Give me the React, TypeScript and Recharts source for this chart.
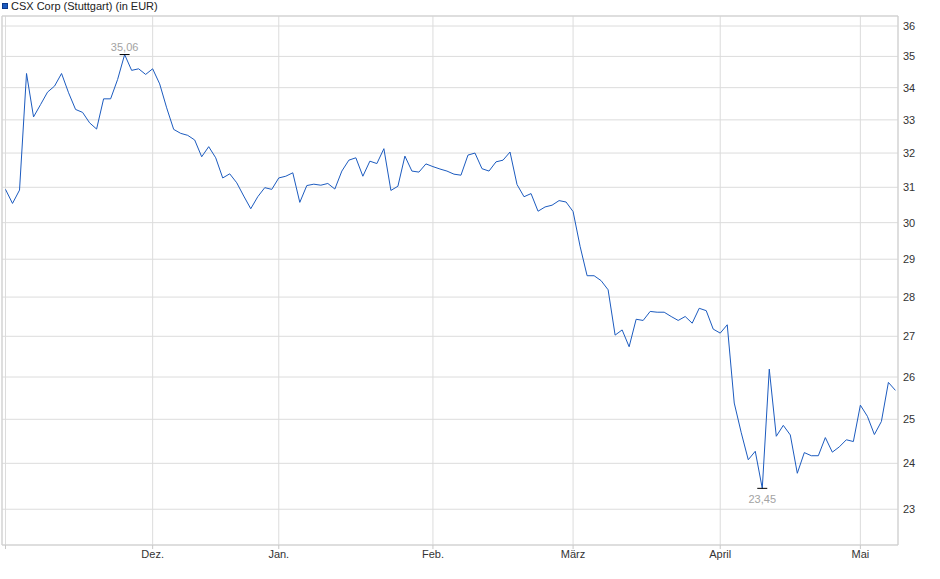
import { LineChart, Line, XAxis, YAxis, CartesianGrid, ReferenceArea } from 'recharts'

// CSX Corp, Stuttgart, daily close in EUR (Nov 2024 - May 2025), one value per trading day
const closes = [
  30.94, 30.54, 30.92, 34.45, 33.09, 33.47, 33.86, 34.05, 34.45, 33.84,
  33.32, 33.23, 32.91, 32.72, 33.65, 33.65, 34.26, 35.06, 34.55, 34.60,
  34.42, 34.60, 34.12, 33.37, 32.71, 32.59, 32.53, 32.39, 31.89, 32.19,
  31.86, 31.27, 31.39, 31.13, 30.75, 30.39, 30.73, 30.99, 30.94, 31.27,
  31.32, 31.42, 30.57, 31.05, 31.09, 31.06, 31.11, 30.95, 31.47, 31.79,
  31.86, 31.32, 31.76, 31.69, 32.13, 30.91, 31.03, 31.91, 31.47, 31.44,
  31.68, 31.60, 31.53, 31.47, 31.38, 31.35, 31.94, 32.00, 31.54, 31.47,
  31.74, 31.79, 32.03, 31.08, 30.73, 30.82, 30.32, 30.44, 30.49, 30.62,
  30.58, 30.31, 29.35, 28.56, 28.56, 28.43, 28.19, 27.03, 27.16, 26.74,
  27.43, 27.40, 27.63, 27.61, 27.61, 27.50, 27.40, 27.50, 27.33, 27.71,
  27.65, 27.18, 27.08, 27.29, 25.38, 24.69, 24.08, 24.27, 23.45, 26.19,
  24.61, 24.86, 24.64, 23.78, 24.24, 24.17, 24.17, 24.58, 24.25, 24.37,
  24.53, 24.49, 25.33, 25.07, 24.65, 24.95, 25.87, 25.68,
]

// index of the first trading day of each month
const monthStarts = [0, 21, 39, 61, 81, 102, 122]
const monthLabels = ['', 'Dez.', 'Jan.', 'Feb.', 'März', 'April', 'Mai']

const priceTicks = [23, 24, 25, 26, 27, 28, 29, 30, 31, 32, 33, 34, 35, 36]

const X_DOMAIN: [number, number] = [-0.5, 127.37]
const Y_DOMAIN: [number, number] = [22.25, 36.336]

const BLUE = '#1c5bbf'
const GRID = '#dcdcdc'
const FONT = '"Liberation Sans", Arial, sans-serif'

const data = closes.map((v, i) => ({ i, v }))
const maxIdx = closes.indexOf(Math.max(...closes))
const minIdx = closes.indexOf(Math.min(...closes))

const fmt = (v: number) => v.toFixed(2).replace('.', ',')

function ExtremeDot(props: any) {
  const { cx, cy, index, payload } = props
  if (index !== maxIdx && index !== minIdx) return <g key={index} />
  const isMax = index === maxIdx
  return (
    <g key={index}>
      <line x1={cx - 5} x2={cx + 5} y1={cy} y2={cy} stroke="#000" strokeWidth={1} />
      <text
        x={cx}
        y={isMax ? cy - 4 : cy + 15}
        textAnchor="middle"
        fontSize={11}
        fontFamily={FONT}
        fill="#a3a3a3"
      >
        {fmt(payload.v)}
      </text>
    </g>
  )
}

export default function App() {
  return (
    <div style={{ position: 'absolute', left: 0, top: 0, width: 940, height: 579, background: '#fff' }}>
      <div
        style={{
          position: 'absolute', left: 2, top: 0, height: 12, display: 'flex', alignItems: 'center',
          fontFamily: FONT, fontSize: 11, color: '#222',
        }}
      >
        <span style={{ width: 4, height: 4, background: BLUE, border: '1px solid #0d3a8c', marginRight: 3 }} />
        CSX Corp (Stuttgart) (in EUR)
      </div>
      <LineChart width={940} height={579} data={data} margin={{ top: 16, right: 0, left: 2, bottom: 0 }}>
        <CartesianGrid stroke={GRID} />
        <XAxis
          dataKey="i"
          type="number"
          domain={X_DOMAIN}
          allowDataOverflow
          ticks={monthStarts}
          interval={0}
          tickFormatter={(i) => monthLabels[monthStarts.indexOf(i)] ?? ''}
          height={34}
          axisLine={false}
          tickLine={{ stroke: '#c8c8c8' }}
          tickSize={4}
          tickMargin={1}
          tick={{ fontSize: 11, fill: '#333', fontFamily: FONT }}
        />
        <YAxis
          orientation="right"
          type="number"
          scale="log"
          domain={Y_DOMAIN}
          allowDataOverflow
          ticks={priceTicks}
          interval={0}
          width={42}
          axisLine={false}
          tickLine={false}
          tickSize={3}
          tickMargin={2}
          tick={{ fontSize: 11, fill: '#333', fontFamily: FONT }}
        />
        <ReferenceArea
          x1={X_DOMAIN[0]}
          x2={X_DOMAIN[1]}
          y1={Y_DOMAIN[0]}
          y2={Y_DOMAIN[1]}
          fill="none"
          stroke="#cfcfcf"
          ifOverflow="visible"
        />
        <Line
          type="linear"
          dataKey="v"
          stroke={BLUE}
          strokeWidth={1}
          dot={ExtremeDot}
          activeDot={false}
          isAnimationActive={false}
        />
      </LineChart>
    </div>
  )
}
